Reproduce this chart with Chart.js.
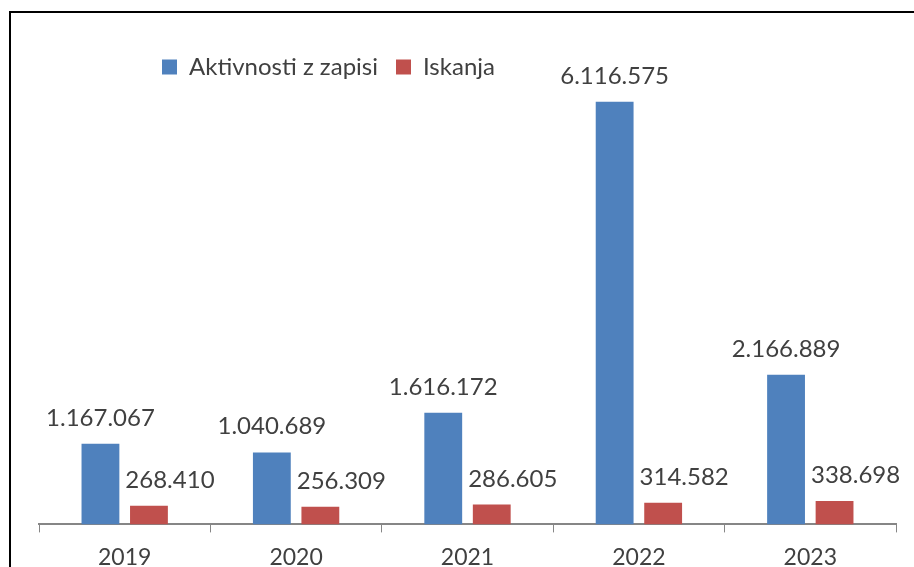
<!DOCTYPE html>
<html>
<head>
<meta charset="utf-8">
<script src="https://cdn.jsdelivr.net/npm/chart.js@4/dist/chart.umd.min.js"></script>
<style>
  html, body { margin: 0; padding: 0; background: #fff; overflow: hidden; }
  #frame { position: absolute; left: 9px; top: 11px; width: 1000px; height: 1000px; border: 2px solid #000; }
  #wrap { position: absolute; left: 0; top: 0; width: 914px; height: 567px; }
</style>
</head>
<body>
<div id="frame"></div>
<div id="wrap"><canvas id="chart"></canvas></div>
<script>
const years = ['2019', '2020', '2021', '2022', '2023'];
const aktivnosti = [1167067, 1040689, 1616172, 6116575, 2166889];
const iskanja = [268410, 256309, 286605, 314582, 338698];

const textColor = '#404040';
const fontFamily = 'Lato, "Open Sans", sans-serif';

// thousands with dots, like 1.167.067
const fmt = (v) => String(v).replace(/\B(?=(\d{3})+(?!\d))/g, '.');

// value labels above bars (the red ones sit a bit to the right)
const valueLabels = {
  id: 'valueLabels',
  afterDatasetsDraw(chart) {
    const ctx = chart.ctx;
    ctx.save();
    ctx.font = '24px ' + fontFamily;
    ctx.fillStyle = textColor;
    ctx.textAlign = 'center';
    ctx.textBaseline = 'alphabetic';
    chart.data.datasets.forEach((ds, i) => {
      const meta = chart.getDatasetMeta(i);
      meta.data.forEach((bar, j) => {
        const dx = i === 1 ? 21 : 0;
        ctx.fillText(fmt(ds.data[j]), bar.x + dx, bar.y - 18);
      });
    });
    ctx.restore();
  }
};

// move the legend over the plot, left of centre
const legendShift = {
  id: 'legendShift',
  afterLayout(chart) {
    const lg = chart.legend;
    if (!lg) return;
    lg.left += 105;
    lg.right += 105;
    lg.top += 37;
    lg.bottom += 37;
  }
};

new Chart(document.getElementById('chart'), {
  type: 'bar',
  data: {
    labels: years,
    datasets: [
      { label: 'Aktivnosti z zapisi', data: aktivnosti, backgroundColor: '#4F81BD' },
      { label: 'Iskanja', data: iskanja, backgroundColor: '#C0504D' }
    ]
  },
  options: {
    responsive: true,
    maintainAspectRatio: false,
    animation: false,
    categoryPercentage: 0.566,
    barPercentage: 0.78,
    layout: { padding: { left: 39, right: 18, top: 0, bottom: -15 } },
    plugins: {
      tooltip: { enabled: false },
      legend: {
        position: 'top',
        align: 'start',
        labels: {
          color: textColor,
          font: { family: fontFamily, size: 24 },
          boxWidth: 15,
          boxHeight: 15,
          padding: 18
        }
      }
    },
    scales: {
      x: {
        offset: true,
        grid: { offset: true, drawOnChartArea: false, tickLength: 8, color: '#868686', lineWidth: 1 },
        border: { color: '#868686', width: 2 },
        ticks: { color: textColor, font: { family: fontFamily, size: 23 }, padding: 11 }
      },
      y: { display: false, min: 0, max: 6835000 }
    }
  },
  plugins: [valueLabels, legendShift]
});
</script>
</body>
</html>
